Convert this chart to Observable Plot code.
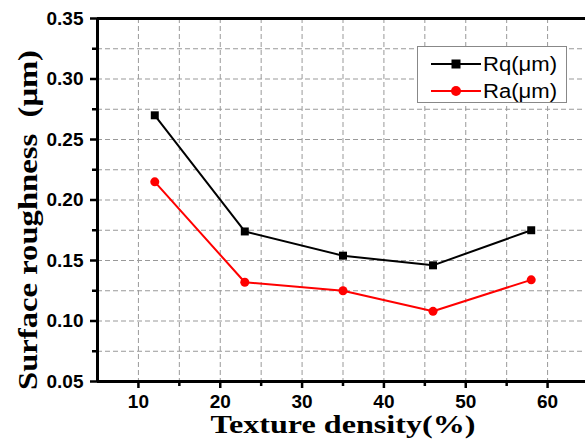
<!DOCTYPE html>
<html><head><meta charset="utf-8">
<script src="https://cdn.jsdelivr.net/npm/d3@7"></script>
<script src="https://cdn.jsdelivr.net/npm/@observablehq/plot@0.6"></script>
<style>
html,body{margin:0;overflow:hidden;background:#fff;}
#wrap{position:relative;width:585px;height:444px;overflow:hidden;}
#wrap svg{display:block;max-width:none !important;overflow:hidden;}
g[aria-label="y-axis label"] text{font-family:"Liberation Serif","Times New Roman",serif;font-weight:bold;font-size:27px;}
g[aria-label="x-axis label"] text{font-family:"Liberation Serif","Times New Roman",serif;font-weight:bold;font-size:25px;}
#legend{position:absolute;left:417px;top:46px;width:148px;height:55px;border:1.5px solid #888;background:#fff;font-family:"Liberation Sans",Arial,sans-serif;}
</style></head><body><div id="wrap"></div>
<script>
const density = [12, 23, 35, 46, 58];
const rq = [0.270, 0.174, 0.154, 0.146, 0.175];
const ra = [0.215, 0.132, 0.125, 0.108, 0.134];
const seriesNames = ["Rq(μm)", "Ra(μm)"];
const seriesColors = ["#000000", "#ff0000"];
const xDomain = [5, 65];
const yDomain = [0.05, 0.35];
const xTicks = [10, 20, 30, 40, 50, 60];
const xMinor = [15, 25, 35, 45, 55];
const yTicks = [0.05, 0.10, 0.15, 0.20, 0.25, 0.30, 0.35];
const yMinor = [0.075, 0.125, 0.175, 0.225, 0.275, 0.325];
const xGrid = [10, 15, 20, 25, 30, 35, 40, 45, 50, 55, 60];
const yGrid = [0.075, 0.10, 0.125, 0.15, 0.175, 0.20, 0.225, 0.25, 0.275, 0.30, 0.325];

const rqData = density.map((d, i) => ({x: d, y: rq[i]}));
const raData = density.map((d, i) => ({x: d, y: ra[i]}));

const plot = Plot.plot({
  width: 585, height: 444,
  marginLeft: 97, marginTop: 18, marginBottom: 63, marginRight: -3,
  x: {domain: xDomain},
  y: {domain: yDomain},
  style: {fontFamily: "'Liberation Sans', Arial, sans-serif", fontWeight: "bold", fontSize: "19px", color: "#000", background: "#fff"},
  marks: [
    Plot.gridX(xGrid, {stroke: "#999", strokeOpacity: 1, strokeWidth: 1, strokeDasharray: "5,3"}),
    Plot.gridY(yGrid, {stroke: "#999", strokeOpacity: 1, strokeWidth: 1, strokeDasharray: "5,3"}),
    Plot.axisX(xTicks, {tickSize: 7, strokeWidth: 2.5, tickPadding: 6, label: "Texture density(%)", labelAnchor: "center", labelOffset: 51, labelArrow: "none"}),
    Plot.axisX(xMinor, {tickSize: 5, strokeWidth: 2.5, text: null, label: null}),
    Plot.axisY(yTicks, {tickSize: 7, strokeWidth: 2.5, tickPadding: 7, tickFormat: d3.format(".2f"), label: "Surface roughness  (μm)", labelAnchor: "center", labelOffset: 80, labelArrow: "none"}),
    Plot.axisY(yMinor, {tickSize: 5, strokeWidth: 2.5, text: null, label: null}),
    Plot.ruleY([yDomain[1]], {stroke: "#000", strokeWidth: 3}),
    Plot.ruleY([yDomain[0]], {stroke: "#000", strokeWidth: 3}),
    Plot.ruleX([xDomain[0]], {stroke: "#000", strokeWidth: 3}),
    Plot.line(rqData, {x: "x", y: "y", stroke: seriesColors[0], strokeWidth: 2}),
    Plot.dot(rqData, {x: "x", y: "y", symbol: "square", fill: seriesColors[0], r: 4.5}),
    Plot.line(raData, {x: "x", y: "y", stroke: seriesColors[1], strokeWidth: 2}),
    Plot.dot(raData, {x: "x", y: "y", symbol: "circle", fill: seriesColors[1], r: 4.5})
  ]
});
const wrap = document.getElementById("wrap");
wrap.appendChild(plot);

const yl = plot.querySelector('g[aria-label="y-axis label"] text');
if (yl) { yl.setAttribute("textLength", "340"); yl.setAttribute("lengthAdjust", "spacingAndGlyphs"); yl.setAttribute("dx", "-20"); }
const xl = plot.querySelector('g[aria-label="x-axis label"] text');
if (xl) { xl.setAttribute("textLength", "265"); xl.setAttribute("lengthAdjust", "spacingAndGlyphs"); }

const legend = document.createElement("div");
legend.id = "legend";
const rows = seriesNames.map((n, i) => {
  const cy = 17 + i * 27;
  const marker = i === 0
    ? `<rect x="${38-4.5}" y="${cy-4.5}" width="9" height="9" fill="${seriesColors[i]}"/>`
    : `<circle cx="38" cy="${cy}" r="5" fill="${seriesColors[i]}"/>`;
  return `<line x1="13" x2="63" y1="${cy}" y2="${cy}" stroke="${seriesColors[i]}" stroke-width="2"/>${marker}<text x="65" y="${cy}" dy="0.35em" font-size="20" textLength="74" lengthAdjust="spacingAndGlyphs">${n}</text>`;
}).join("");
legend.innerHTML = `<svg width="148" height="55">${rows}</svg>`;
wrap.appendChild(legend);
</script>
</body></html>
